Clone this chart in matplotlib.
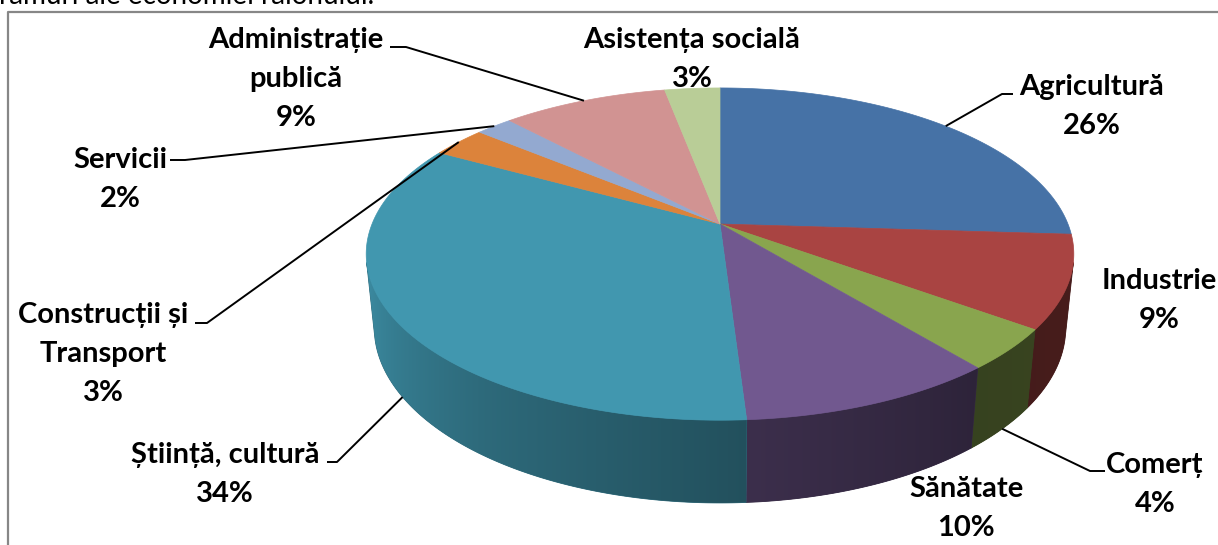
import numpy as np
import matplotlib
matplotlib.use("Agg")
from matplotlib import pyplot as plt
from matplotlib.patches import Polygon
from matplotlib.colors import to_rgb

# ramuri ale economiei (procente)
categories = ['Agricultură', 'Industrie', 'Comerț', 'Sănătate', 'Știință, cultură',
              'Construcții și\nTransport', 'Servicii', 'Administrație\npublică', 'Asistența socială']
values = [26, 9, 4, 10, 34, 3, 2, 9, 3]

colors = ['#4672a6', '#a94442', '#89a54e', '#71588f', '#4197af',
          '#dc833b', '#93a9d0', '#d19392', '#b9cd97']

# label placement: (x centre, baseline of first line, leader polyline start or None)
label_pos = [
    (1092, 95, [(1013, 94), (1002, 94)]),
    (1159, 289, None),
    (1155, 473, [(1105, 471), (1090, 471)]),
    (966, 497, None),
    (225, 463, [(327, 462), (337, 462)]),
    (103, 323, [(195, 323), (207, 323)]),
    (120, 168, [(170, 160), (185, 160)]),
    (296, 48, [(390, 47), (406, 47)]),
    (692, 48, None),
]
# which edge the leader line meets: top rim or bottom rim
leader_on_bottom = [False, False, True, False, True, False, False, False, False]

# 3D pie camera
cx, cy = 720, 224
F, D = 1705.0, 4.9
elev = np.radians(27.5)
sin_e, cos_e = np.sin(elev), np.cos(elev)
h = 0.24


def project(a_deg, z):
    a = np.radians(a_deg)
    X, Y = np.sin(a), np.cos(a)
    depth = D + Y * cos_e - z * sin_e
    sx = X / depth * F
    sy = (Y * sin_e + z * cos_e) / depth * F
    return cx + sx, cy - sy


fig = plt.figure(figsize=(12.18, 5.45), dpi=100)
ax = fig.add_axes([0, 0, 1, 1])
ax.set_xlim(0, 1218)
ax.set_ylim(545, 0)
ax.axis('off')

cum = np.concatenate([[0], np.cumsum(values)])
angles = 360.0 * cum / cum[-1]

# outer wall, only the part facing the camera, shaded with a horizontal gradient
a_vis0 = np.degrees(np.arccos(-1 / (D * cos_e)))
a_vis1 = 360 - a_vis0
wall_a = [a_vis0, 140, 176, 215, a_vis1]
wall_f = [0.43, 0.40, 0.53, 0.70, 0.93]

for i in range(len(values)):
    a0 = max(angles[i], a_vis0)
    a1 = min(angles[i + 1], a_vis1)
    if a1 <= a0:
        continue
    base = np.array(to_rgb(colors[i]))
    arc = np.linspace(a0, a1, 200)
    tx, ty = project(arc, 0)
    bx, by = project(arc, -h)
    pts = list(zip(tx, ty)) + list(zip(bx[::-1], by[::-1]))
    dark = base * np.interp(arc.mean(), wall_a, wall_f)
    poly = Polygon(pts, closed=True, facecolor=dark, edgecolor=dark, lw=0.6)
    ax.add_patch(poly)

    # gradient strip across the screen x range of this wall
    x_lo, x_hi = min(tx.min(), bx.min()), max(tx.max(), bx.max())
    y_lo, y_hi = min(ty.min(), by.min()), max(ty.max(), by.max())
    gx = np.linspace(x_lo, x_hi, 300)
    order = np.argsort(tx)
    ga = np.interp(gx, tx[order], arc[order])
    f = np.interp(ga, wall_a, wall_f)
    img = np.clip(base[None, :] * f[:, None], 0, 1)[None, :, :]
    im = ax.imshow(img, extent=(x_lo, x_hi, y_hi, y_lo), aspect='auto',
                   interpolation='bilinear', zorder=1)
    im.set_clip_path(poly)

# top faces
for i in range(len(values)):
    arc = np.linspace(angles[i], angles[i + 1], 200)
    xs, ys = project(arc, 0)
    pts = [(cx, cy)] + list(zip(xs, ys))
    ax.add_patch(Polygon(pts, closed=True, facecolor=colors[i], edgecolor=colors[i],
                         lw=0.5, zorder=2))

ax.set_xlim(0, 1218)
ax.set_ylim(545, 0)

# labels and leader lines
fam = ['Lato', 'DejaVu Sans']
for i, (name, v) in enumerate(zip(categories, values)):
    x, y0, lead = label_pos[i]
    lines = name.split('\n') + [f'{v}%']
    for j, t in enumerate(lines):
        ax.text(x, y0 + j * 39, t, ha='center', va='baseline', fontsize=21,
                fontweight='bold', family=fam, color='black', zorder=4)
    if lead is not None:
        mid = (angles[i] + angles[i + 1]) / 2
        ex, ey = project(mid, -h if leader_on_bottom[i] else 0)
        px = [p[0] for p in lead] + [ex]
        py = [p[1] for p in lead] + [ey]
        ax.plot(px, py, color='black', lw=1.4, solid_capstyle='butt', zorder=3)

# chart frame and the text line above it
ax.plot([8, 8, 1218], [545, 12, 12], color='#878787', lw=1.6, zorder=3)
ax.text(-1, 4.5, 'ramuri ale economiei raionului.', ha='left', va='baseline',
        fontsize=20, family=fam, color='black')

fig.savefig('out.png', dpi=100)
